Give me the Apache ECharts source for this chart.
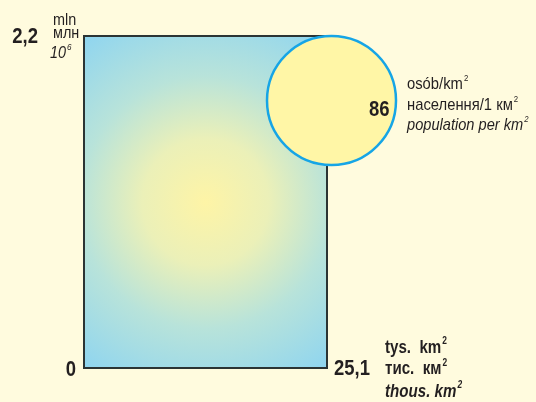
<!DOCTYPE html>
<html>
<head>
<meta charset="utf-8">
<script src="https://cdn.jsdelivr.net/npm/echarts@6/dist/echarts.min.js"></script>
<style>
html,body{margin:0;padding:0;background:#fffbde;}
#c{width:536px;height:402px;}
</style>
</head>
<body>
<div id="c"></div>
<script>
// Data
var areaValues = [25.1];          // thous. km2
var populationValues = [2.2];     // mln
var densityValues = [86];         // population per km2
var xTickLabels = ['0', '25,1'];
var yTickLabels = ['0', '2,2'];
var popUnitLabels = ['mln', 'млн', '10'];
var areaUnitLabels = ['tys.  km', 'тис.  км', 'thous. km'];
var densityUnitLabels = ['osób/km', 'населення/1 км', 'population per km'];

var FONT = "'Liberation Sans',Arial,sans-serif";
var TXT = '#231f20';
var SX = 0.84;

var mctx = document.createElement('canvas').getContext('2d');
function fontStr(size, weight, style) {
  return (style || 'normal') + ' ' + (weight || 'normal') + ' ' + size + 'px ' + FONT;
}
// text placed by baseline; optional superscript
function txt(str, x, base, size, o) {
  o = o || {};
  var sc = o.sx || SX;
  var f = fontStr(size, o.weight, o.style);
  var els = [{
    type: 'text', x: x, y: base - 0.35 * size, scaleX: sc,
    style: {text: str, align: o.align || 'left', verticalAlign: 'middle', font: f, fill: TXT}
  }];
  if (o.sup) {
    mctx.font = f;
    var w = mctx.measureText(str).width * sc;
    var ss = o.supSize || 10;
    els.push({
      type: 'text', x: x + w + 1, y: base - 0.5 * size - 0.35 * ss, scaleX: sc,
      style: {text: o.sup, align: 'left', verticalAlign: 'middle', font: fontStr(ss, o.weight, o.style), fill: TXT}
    });
  }
  return els;
}

var chart = echarts.init(document.getElementById('c'), null, {renderer: 'canvas'});

chart.setOption({
  backgroundColor: '#fffbde',
  animation: false,
  grid: {left: 84, right: 209, top: 36, bottom: 34},
  xAxis: {type: 'value', min: 0, max: areaValues[0], show: false},
  yAxis: {type: 'value', min: 0, max: populationValues[0], show: false},
  series: [{
    type: 'custom',
    coordinateSystem: 'cartesian2d',
    data: [[areaValues[0], populationValues[0], densityValues[0]]],
    renderItem: function (params, api) {
      var o = api.coord([0, 0]);
      var p = api.coord([api.value(0), api.value(1)]);
      var x0 = o[0], y0 = o[1], x1 = p[0], y1 = p[1];
      var c = [];
      c.push({
        type: 'rect',
        shape: {x: x0, y: y1, width: x1 - x0, height: y0 - y1},
        style: {
          fill: {
            type: 'radial', x: 0.5, y: 0.5, r: 0.86,
            colorStops: [
              {offset: 0, color: '#fef4a6'},
              {offset: 0.3, color: '#ebf0b8'},
              {offset: 0.6, color: '#b8e3da'},
              {offset: 1, color: '#8cd4f1'}
            ]
          },
          stroke: '#2b3434', lineWidth: 2
        }
      });
      // density circle at top-right corner
      var cx = x1 + 4.5, cy = y1 + 64.5;
      c.push({
        type: 'circle',
        shape: {cx: cx, cy: cy, r: 64.5},
        style: {fill: '#fff6a6', stroke: '#16a5e6', lineWidth: 2.5}
      });
      c = c.concat(txt(String(api.value(2)), cx + 58, cy + 17.5, 22, {weight: 'bold', align: 'right'}));
      c = c.concat(txt(densityUnitLabels[0], 407, cy - 10.5, 17, {sup: '2', sx: 0.87, supSize: 9}));
      c = c.concat(txt(densityUnitLabels[1], 407, cy + 10.5, 17, {sup: '2', sx: 0.87, supSize: 9}));
      c = c.concat(txt(densityUnitLabels[2], 407, cy + 30.5, 17, {sup: '2', sx: 0.86, supSize: 9, style: 'italic'}));
      // y labels
      c = c.concat(txt(yTickLabels[1], x0 - 46, y1 + 9, 22, {weight: 'bold', align: 'right'}));
      c = c.concat(txt(popUnitLabels[0], x0 - 31, y1 - 10, 16, {sx: 0.9}));
      c = c.concat(txt(popUnitLabels[1], x0 - 31, y1 + 3, 16, {sx: 0.9}));
      c = c.concat(txt(popUnitLabels[2], x0 - 34, y1 + 23, 16, {sx: 0.9, style: 'italic', sup: '6', supSize: 9}));
      // x labels
      c = c.concat(txt(xTickLabels[0], x0 - 8, y0 + 10, 22, {weight: 'bold', align: 'right'}));
      c = c.concat(txt(xTickLabels[1], x1 + 7, y0 + 9, 22, {weight: 'bold'}));
      c = c.concat(txt(areaUnitLabels[0], 385, y0 - 14, 18, {weight: 'bold', sup: '2', supSize: 10}));
      c = c.concat(txt(areaUnitLabels[1], 385, y0 + 7.5, 18, {weight: 'bold', sup: '2', supSize: 10}));
      c = c.concat(txt(areaUnitLabels[2], 385, y0 + 30, 18, {weight: 'bold', style: 'italic', sup: '2', supSize: 10}));
      return {type: 'group', children: c};
    }
  }]
});
</script>
</body>
</html>
